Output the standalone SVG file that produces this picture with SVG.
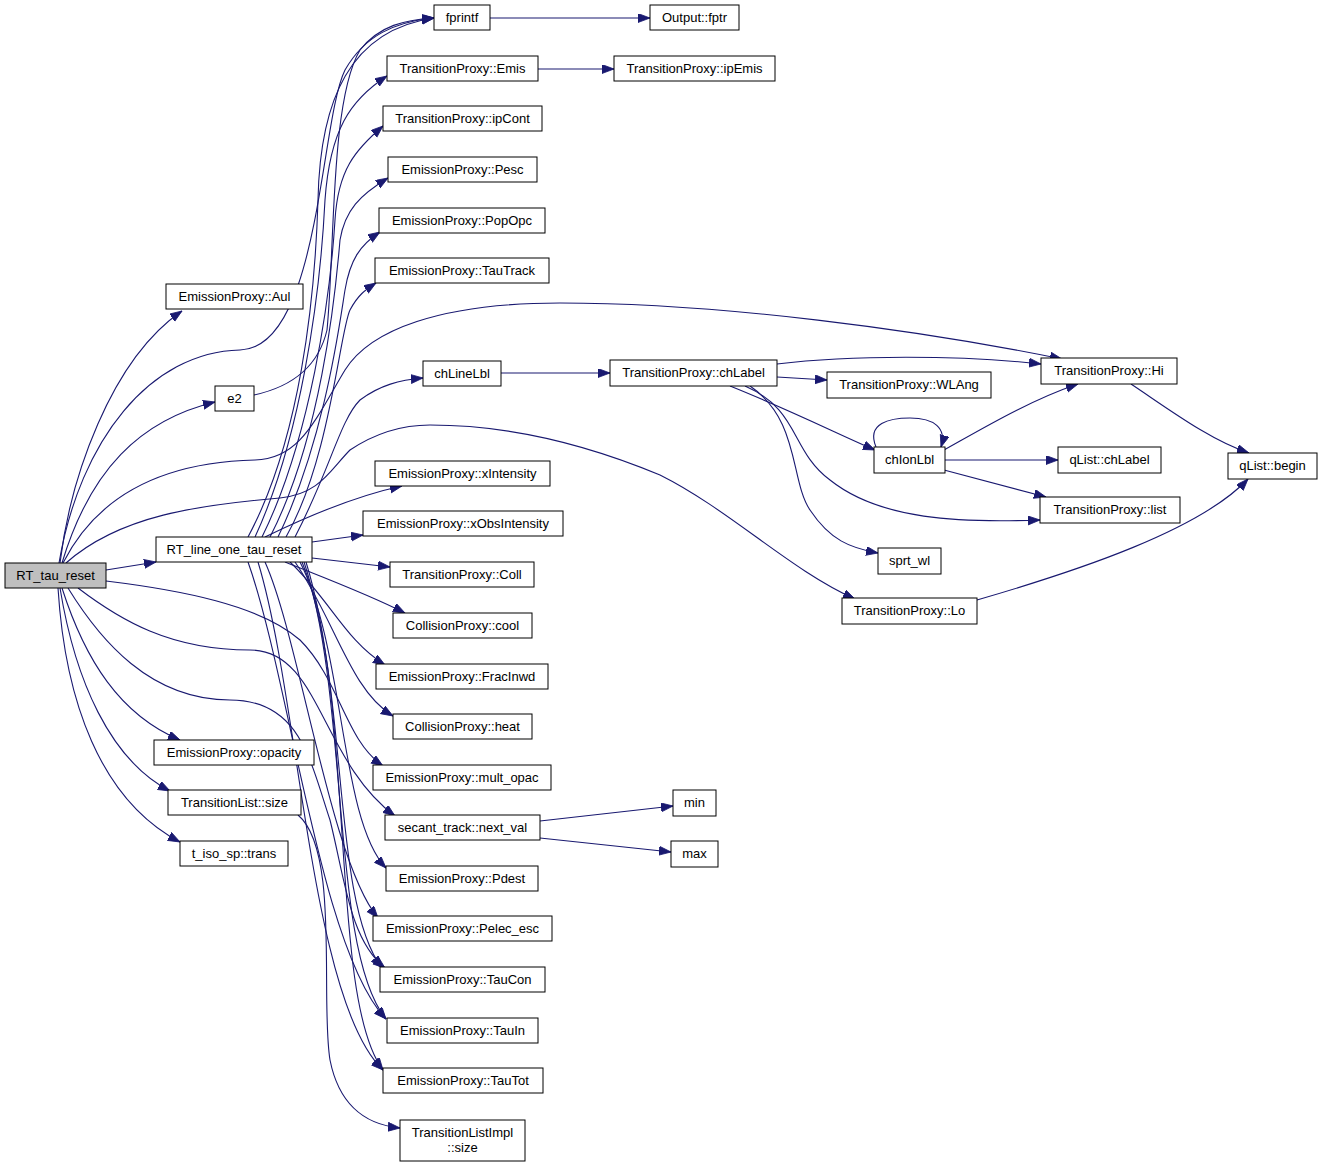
<svg xmlns="http://www.w3.org/2000/svg" width="1323" height="1167" viewBox="0 0 1323 1167">
<style>
.n rect{fill:#fff;stroke:#000;stroke-width:1}
.n.root rect{fill:#bfbfbf}
.n text{font-family:"Liberation Sans",Arial,sans-serif;font-size:13px;fill:#000;text-anchor:middle}
#edges path{fill:none;stroke:#191970;stroke-width:1.1}
</style>
<defs>
<marker id="ah" markerUnits="userSpaceOnUse" markerWidth="13" markerHeight="10" refX="12" refY="4.5" orient="auto">
<path d="M0,0 L12,4.5 L0,9 Z" fill="#191970" stroke="#191970" stroke-width="0.8"/>
</marker>
</defs>
<rect width="1323" height="1167" fill="#fff"/>
<g id="edges">
<path d="M106,570 L156,562" marker-end="url(#ah)"/>
<path d="M60,563 C70,480 110,360 182,311" marker-end="url(#ah)"/>
<path d="M62,563 C90,470 140,420 215,402" marker-end="url(#ah)"/>
<path d="M62,588 C85,660 120,715 180,740" marker-end="url(#ah)"/>
<path d="M60,588 C75,680 110,760 170,791" marker-end="url(#ah)"/>
<path d="M58,588 C65,700 100,800 180,842" marker-end="url(#ah)"/>
<path d="M59,563 C80,440 150,352 240,350 C320,348 320,120 345,70 C365,35 395,22 434,18" marker-end="url(#ah)"/>
<path d="M63,563 C100,490 170,462 255,460 C300,459 315,420 345,370 C370,330 440,303 560,303 C720,303 920,330 1062,359" marker-end="url(#ah)"/>
<path d="M66,563 C120,515 200,505 280,498 C320,494 330,470 350,450 C380,430 410,425 430,425 C520,425 600,450 660,475 C730,510 790,570 855,599" marker-end="url(#ah)"/>
<path d="M106,581 C180,590 260,605 300,640 C340,680 345,740 383,766" marker-end="url(#ah)"/>
<path d="M78,588 C120,620 170,650 250,650 C320,650 320,760 395,816" marker-end="url(#ah)"/>
<path d="M68,588 C100,640 150,700 230,700 C300,700 310,760 330,820 C345,880 350,940 385,968" marker-end="url(#ah)"/>
<path d="M254,395 C300,385 320,360 327,330 C335,250 330,100 360,50 C380,25 405,20 434,18" marker-end="url(#ah)"/>
<path d="M248,537 C300,440 315,300 318,200 C320,100 350,30 434,18" marker-end="url(#ah)"/>
<path d="M255,537 C300,440 320,300 325,200 C330,130 350,100 387,76" marker-end="url(#ah)"/>
<path d="M262,537 C310,440 330,300 335,220 C338,170 355,150 383,126" marker-end="url(#ah)"/>
<path d="M270,537 C320,440 335,300 340,240 C345,210 360,195 388,178" marker-end="url(#ah)"/>
<path d="M278,537 C325,440 340,320 345,290 C350,260 360,245 380,232" marker-end="url(#ah)"/>
<path d="M286,537 C330,460 340,330 350,310 C358,295 365,290 376,283" marker-end="url(#ah)"/>
<path d="M295,537 C330,470 340,420 360,400 C380,385 400,380 423,378" marker-end="url(#ah)"/>
<path d="M265,537 C310,515 360,495 402,486" marker-end="url(#ah)"/>
<path d="M312,542 L363,535" marker-end="url(#ah)"/>
<path d="M312,558 L390,567" marker-end="url(#ah)"/>
<path d="M285,562 C330,580 370,595 405,613" marker-end="url(#ah)"/>
<path d="M290,562 C330,600 345,640 385,665" marker-end="url(#ah)"/>
<path d="M295,562 C335,620 350,690 393,716" marker-end="url(#ah)"/>
<path d="M300,562 C345,650 340,820 386,868" marker-end="url(#ah)"/>
<path d="M265,562 C300,640 330,860 378,918" marker-end="url(#ah)"/>
<path d="M302,562 C350,680 330,900 382,968" marker-end="url(#ah)"/>
<path d="M248,562 C290,680 320,950 386,1019" marker-end="url(#ah)"/>
<path d="M304,562 C350,700 330,950 386,1019" marker-end="url(#ah)"/>
<path d="M306,562 C355,720 330,1000 383,1070" marker-end="url(#ah)"/>
<path d="M258,562 C300,700 310,1000 383,1070" marker-end="url(#ah)"/>
<path d="M298,815 C340,850 320,1000 330,1060 C340,1110 370,1125 400,1128" marker-end="url(#ah)"/>
<path d="M490,18 L650,18" marker-end="url(#ah)"/>
<path d="M538,69 L614,69" marker-end="url(#ah)"/>
<path d="M501,373 L610,373" marker-end="url(#ah)"/>
<path d="M777,364 C850,355 960,355 1041,364" marker-end="url(#ah)"/>
<path d="M777,377 L827,380" marker-end="url(#ah)"/>
<path d="M730,386 C790,410 840,435 875,450" marker-end="url(#ah)"/>
<path d="M745,386 C800,410 790,450 830,480 C880,520 960,523 1040,520" marker-end="url(#ah)"/>
<path d="M750,386 C800,420 790,480 810,510 C830,540 850,548 878,553" marker-end="url(#ah)"/>
<path d="M876,447 C866,423 890,418 910,418 C934,418 947,428 941,447" marker-end="url(#ah)"/>
<path d="M944,450 C980,430 1030,400 1078,384" marker-end="url(#ah)"/>
<path d="M945,460 L1058,460" marker-end="url(#ah)"/>
<path d="M944,470 L1046,497" marker-end="url(#ah)"/>
<path d="M1131,384 C1170,410 1210,440 1249,453" marker-end="url(#ah)"/>
<path d="M977,600 C1080,570 1200,530 1248,479" marker-end="url(#ah)"/>
<path d="M540,821 L673,806" marker-end="url(#ah)"/>
<path d="M540,838 L671,852" marker-end="url(#ah)"/>
</g>
<g id="n_RT_tau_reset" class="n root"><rect x="5" y="563" width="101" height="25"/><text x="55.5" y="580">RT_tau_reset</text></g>
<g id="n_Aul" class="n"><rect x="166" y="284" width="137" height="25"/><text x="234.5" y="301">EmissionProxy::Aul</text></g>
<g id="n_e2" class="n"><rect x="215" y="386" width="39" height="25"/><text x="234.5" y="403">e2</text></g>
<g id="n_RT_line_one_tau_reset" class="n"><rect x="156" y="537" width="156" height="25"/><text x="234" y="554">RT_line_one_tau_reset</text></g>
<g id="n_opacity" class="n"><rect x="154" y="740" width="160" height="25"/><text x="234" y="757">EmissionProxy::opacity</text></g>
<g id="n_TransitionList_size" class="n"><rect x="168" y="790" width="133" height="25"/><text x="234.5" y="807">TransitionList::size</text></g>
<g id="n_trans" class="n"><rect x="180" y="841" width="108" height="25"/><text x="234" y="858">t_iso_sp::trans</text></g>
<g id="n_fprintf" class="n"><rect x="434" y="5" width="56" height="25"/><text x="462" y="22">fprintf</text></g>
<g id="n_Emis" class="n"><rect x="387" y="56" width="151" height="25"/><text x="462.5" y="73">TransitionProxy::Emis</text></g>
<g id="n_ipCont" class="n"><rect x="383" y="106" width="159" height="25"/><text x="462.5" y="123">TransitionProxy::ipCont</text></g>
<g id="n_Pesc" class="n"><rect x="388" y="157" width="149" height="25"/><text x="462.5" y="174">EmissionProxy::Pesc</text></g>
<g id="n_PopOpc" class="n"><rect x="379" y="208" width="166" height="25"/><text x="462" y="225">EmissionProxy::PopOpc</text></g>
<g id="n_TauTrack" class="n"><rect x="375" y="258" width="174" height="25"/><text x="462" y="275">EmissionProxy::TauTrack</text></g>
<g id="n_chLineLbl" class="n"><rect x="423" y="361" width="78" height="25"/><text x="462" y="378">chLineLbl</text></g>
<g id="n_xIntensity" class="n"><rect x="375" y="461" width="175" height="25"/><text x="462.5" y="478">EmissionProxy::xIntensity</text></g>
<g id="n_xObsIntensity" class="n"><rect x="363" y="511" width="200" height="25"/><text x="463" y="528">EmissionProxy::xObsIntensity</text></g>
<g id="n_Coll" class="n"><rect x="390" y="562" width="144" height="25"/><text x="462" y="579">TransitionProxy::Coll</text></g>
<g id="n_cool" class="n"><rect x="393" y="613" width="139" height="25"/><text x="462.5" y="630">CollisionProxy::cool</text></g>
<g id="n_FracInwd" class="n"><rect x="376" y="664" width="172" height="25"/><text x="462" y="681">EmissionProxy::FracInwd</text></g>
<g id="n_heat" class="n"><rect x="393" y="714" width="139" height="25"/><text x="462.5" y="731">CollisionProxy::heat</text></g>
<g id="n_mult_opac" class="n"><rect x="373" y="765" width="178" height="25"/><text x="462" y="782">EmissionProxy::mult_opac</text></g>
<g id="n_next_val" class="n"><rect x="385" y="815" width="155" height="25"/><text x="462.5" y="832">secant_track::next_val</text></g>
<g id="n_Pdest" class="n"><rect x="386" y="866" width="152" height="25"/><text x="462" y="883">EmissionProxy::Pdest</text></g>
<g id="n_Pelec_esc" class="n"><rect x="373" y="916" width="179" height="25"/><text x="462.5" y="933">EmissionProxy::Pelec_esc</text></g>
<g id="n_TauCon" class="n"><rect x="380" y="967" width="165" height="25"/><text x="462.5" y="984">EmissionProxy::TauCon</text></g>
<g id="n_TauIn" class="n"><rect x="387" y="1018" width="151" height="25"/><text x="462.5" y="1035">EmissionProxy::TauIn</text></g>
<g id="n_TauTot" class="n"><rect x="383" y="1068" width="160" height="25"/><text x="463" y="1085">EmissionProxy::TauTot</text></g>
<g id="n_TransitionListImpl_size" class="n"><rect x="400" y="1120" width="125" height="41"/><text x="462.5" y="1137">TransitionListImpl</text><text x="462.5" y="1152">::size</text></g>
<g id="n_fptr" class="n"><rect x="650" y="5" width="89" height="25"/><text x="694.5" y="22">Output::fptr</text></g>
<g id="n_ipEmis" class="n"><rect x="614" y="56" width="161" height="25"/><text x="694.5" y="73">TransitionProxy::ipEmis</text></g>
<g id="n_chLabel" class="n"><rect x="610" y="360" width="167" height="26"/><text x="693.5" y="377">TransitionProxy::chLabel</text></g>
<g id="n_WLAng" class="n"><rect x="827" y="372" width="164" height="26"/><text x="909" y="389">TransitionProxy::WLAng</text></g>
<g id="n_chIonLbl" class="n"><rect x="874" y="447" width="71" height="26"/><text x="909.5" y="464">chIonLbl</text></g>
<g id="n_sprt_wl" class="n"><rect x="878" y="548" width="63" height="26"/><text x="909.5" y="565">sprt_wl</text></g>
<g id="n_Lo" class="n"><rect x="842" y="598" width="135" height="26"/><text x="909.5" y="615">TransitionProxy::Lo</text></g>
<g id="n_Hi" class="n"><rect x="1041" y="358" width="136" height="26"/><text x="1109" y="375">TransitionProxy::Hi</text></g>
<g id="n_qList_chLabel" class="n"><rect x="1058" y="447" width="103" height="26"/><text x="1109.5" y="464">qList::chLabel</text></g>
<g id="n_list" class="n"><rect x="1040" y="497" width="140" height="26"/><text x="1110" y="514">TransitionProxy::list</text></g>
<g id="n_begin" class="n"><rect x="1228" y="453" width="89" height="26"/><text x="1272.5" y="470">qList::begin</text></g>
<g id="n_min" class="n"><rect x="673" y="790" width="43" height="26"/><text x="694.5" y="807">min</text></g>
<g id="n_max" class="n"><rect x="671" y="841" width="47" height="26"/><text x="694.5" y="858">max</text></g>
</svg>
